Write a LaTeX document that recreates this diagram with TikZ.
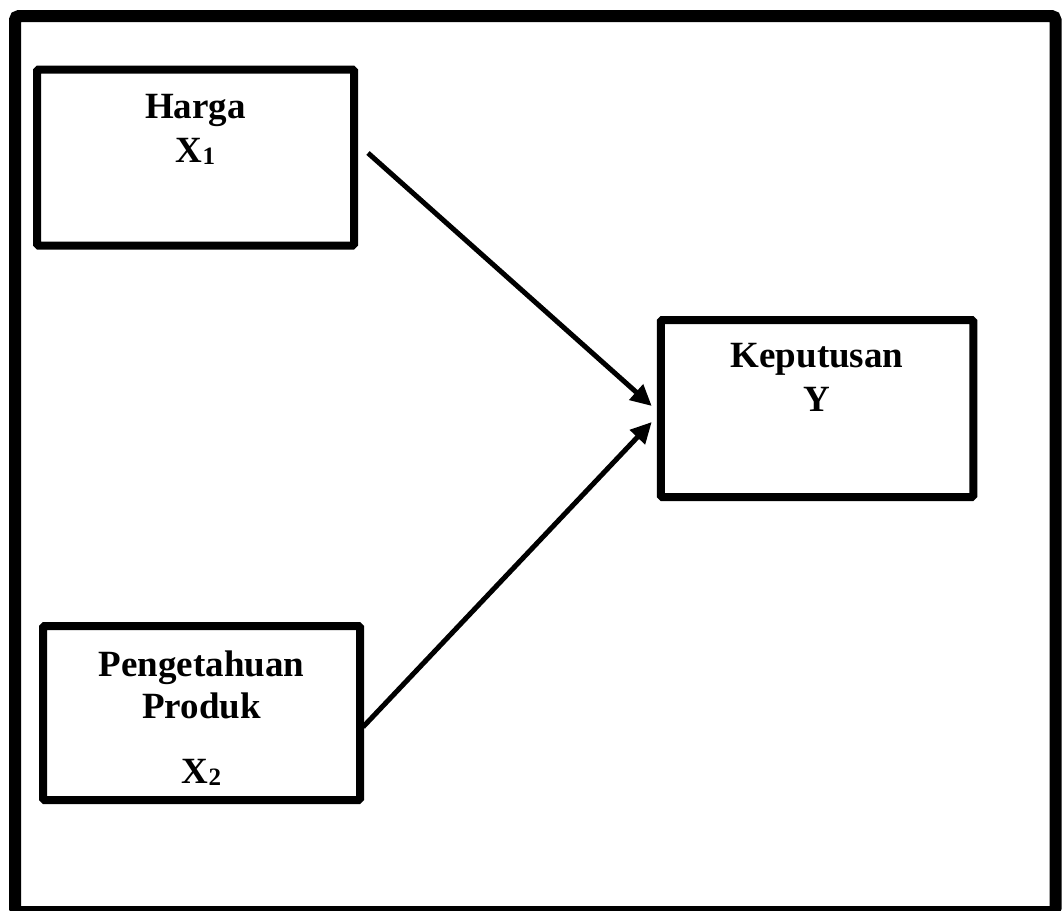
\documentclass[tikz,border=0pt]{standalone}
\usepackage{fontspec}
\setmainfont{Liberation Serif}
\usetikzlibrary{arrows.meta,positioning}
\newcommand{\subidx}[1]{{\fontsize{25}{25}\selectfont\raisebox{-2pt}{#1}}}
\begin{document}
\begin{tikzpicture}[x=1pt,y=-1pt,
  varbox/.style={draw,line width=8pt,rounded corners=1.5pt,minimum width=317pt,minimum height=176pt,inner sep=0pt,outer sep=0pt},
  vartext/.style={font=\fontsize{37}{44}\selectfont\bfseries,align=center,inner sep=0pt},
  arr/.style={line width=5pt,-{Triangle[length=21pt,width=20pt]}}]
\useasboundingbox (0,0) rectangle (1062,910);
\draw[line width=12pt,rounded corners=4pt] (15,16) rectangle (1055.5,912);
\node[varbox] (harga) at (195.5,157.5) {};
\node[varbox,minimum width=312.5pt,minimum height=177pt] (keputusan) at (817,408.5) {};
\node[varbox,minimum height=174pt] (produk) at (201.5,713) {};
\node[vartext,below=25pt of harga.north] (hargatxt) {Harga\\X\subidx{1}};
\node[vartext,below=23pt of keputusan.north] (keputusantxt) {Keputusan\\Y};
\node[vartext,font=\fontsize{37}{42}\selectfont\bfseries,below=25pt of produk.north] (produktxt) {Pengetahuan\\Produk\\[23pt]X\subidx{2}};
\draw[arr] ([shift={(14pt,4.5pt)}]harga.east) -- ([shift={(-9pt,2.5pt)}]keputusan.west);
\draw[arr] ([shift={(3pt,-14pt)}]produk.east) -- ([shift={(-9pt,-13.5pt)}]keputusan.west);
\end{tikzpicture}
\end{document}
